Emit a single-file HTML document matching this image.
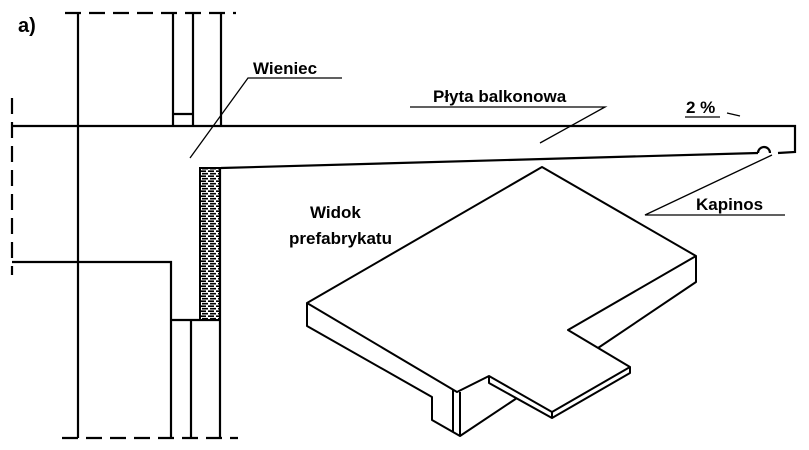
<!DOCTYPE html>
<html><head><meta charset="utf-8"><style>
html,body{margin:0;padding:0;background:#fff;}
svg{display:block;}
text{font-family:"Liberation Sans",sans-serif;font-size:17px;fill:#000;font-weight:bold;}
</style></head><body>
<svg width="809" height="450" viewBox="0 0 809 450" xmlns="http://www.w3.org/2000/svg">
<defs>
<pattern id="h" width="8" height="5" patternUnits="userSpaceOnUse">
<rect width="8" height="5" fill="#fff"/>
<path d="M0 1.2 H6 M2 3.7 H8" stroke="#000" stroke-width="1.6"/>
</pattern>
</defs>
<g stroke="#000" fill="none" stroke-width="2.2">
<path d="M12 98 V275" stroke-dasharray="16,8"/>
<path d="M65 13 H236" stroke-dasharray="16,8"/>
<path d="M62 438 H238" stroke-dasharray="16,8"/>
<path d="M78 13 V438"/>
<path d="M173 13 V126 M193 13 V126 M221 13 V126 M173 114 H193"/>
<path d="M12 126 H795 V152 L778 153"/>
<path d="M221 168 L758 153"/>
<path d="M758 153 A6 6 0 0 1 770 153"/>
<path d="M12 262 H171 V438 M171 320 H221 M191 320 V438 M220 168 V438"/>
<rect x="200" y="168" width="20" height="152" fill="url(#h)" stroke-width="2"/>
</g>
<g stroke="#000" stroke-width="1.3" fill="none">
<path d="M342 78 H248 L190 158"/>
<path d="M410 107 H605 L540 143"/>
<path d="M685 117 H720 M727 113 L740 116"/>
<path d="M785 215 H645 L772 155"/>
</g>
<text x="253" y="74">Wieniec</text>
<text x="433" y="102">Płyta balkonowa</text>
<text x="686" y="113">2 %</text>
<text x="696" y="210">Kapinos</text>
<text x="310" y="218">Widok</text>
<text x="289" y="244">prefabrykatu</text>
<text x="18" y="32" style="font-size:20px">a)</text>
<g stroke="#000" stroke-width="2" fill="none" stroke-linejoin="round">
<path d="M307 303 L542 167 L696 256 L568 330 L630 367 L552 412 L489 376 L457 392 Z"/>
<path d="M307 303 V326 L432 397 V420 L453 432 L460 436 L517 398"/>
<path d="M453 390 V432 M460 392 V436"/>
<path d="M696 256 V282 L598 348"/>
<path d="M489 376 V383 L552 418 L630 373 V367 M552 412 V418"/>
</g>
</svg>
</body></html>
